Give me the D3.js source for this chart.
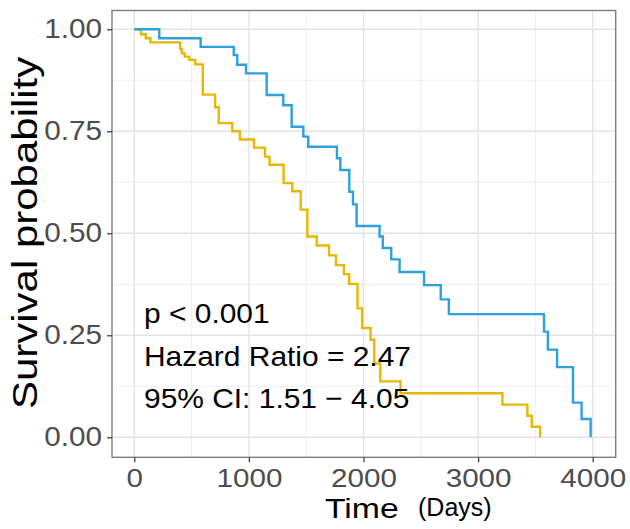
<!DOCTYPE html>
<html>
<head>
<meta charset="utf-8">
<script src="https://cdn.jsdelivr.net/npm/d3@7"></script>
<style>
  html, body { margin: 0; padding: 0; background: #fff; }
  svg { display: block; font-family: "Liberation Sans", Arial, sans-serif; }
</style>
</head>
<body>
<svg id="chart" width="630" height="529"></svg>
<script>
// ---- data ----
const xTicks = [0, 1000, 2000, 3000, 4000];
const yTicks = [0, 0.25, 0.5, 0.75, 1];
const yTickLabels = ["0.00", "0.25", "0.50", "0.75", "1.00"];
const xMinor = [500, 1500, 2500, 3500];
const yMinor = [0.125, 0.375, 0.625, 0.875];

// blue group (lower risk)
const blueTime = [0, 218, 579, 868, 898, 975, 1155, 1300, 1373, 1475, 1518, 1768, 1798, 1876, 1908, 1940, 2140, 2168, 2242, 2315, 2528, 2674, 2745, 3575, 3609, 3689, 3828, 3903, 3982];
const blueSurv = [1, 0.978, 0.957, 0.937, 0.913, 0.892, 0.839, 0.814, 0.761, 0.737, 0.712, 0.684, 0.655, 0.602, 0.571, 0.518, 0.492, 0.464, 0.436, 0.405, 0.373, 0.338, 0.302, 0.259, 0.215, 0.172, 0.085, 0.045, 0];

// yellow group (higher risk)
const yellowTime = [0, 58, 100, 141, 400, 415, 440, 480, 532, 598, 705, 737, 855, 922, 1045, 1140, 1180, 1303, 1379, 1452, 1510, 1592, 1699, 1760, 1830, 1875, 1948, 1988, 2062, 2094, 2147, 2323, 3212, 3430, 3468, 3542];
const yellowSurv = [1, 0.988, 0.978, 0.968, 0.952, 0.941, 0.933, 0.925, 0.914, 0.840, 0.809, 0.770, 0.750, 0.730, 0.710, 0.688, 0.668, 0.623, 0.603, 0.558, 0.492, 0.470, 0.446, 0.422, 0.400, 0.376, 0.316, 0.268, 0.239, 0.181, 0.137, 0.108, 0.080, 0.053, 0.026, 0];

const annotations = ["p < 0.001", "Hazard Ratio = 2.47", "95% CI: 1.51 \u2212 4.05"];

// ---- layout ----
const panel = { left: 112, right: 615.7, top: 10.5, bottom: 457.3 };
const x = d3.scaleLinear().domain([0, 4000]).range([134.3, 592.7]);
const y = d3.scaleLinear().domain([0, 1]).range([437.3, 29.3]);
const FONT = "'Liberation Sans', Arial, sans-serif";

const svg = d3.select("#chart");

// minor grid
svg.append("g").selectAll("line").data(xMinor).join("line")
  .attr("x1", d => x(d)).attr("x2", d => x(d))
  .attr("y1", panel.top).attr("y2", panel.bottom)
  .attr("stroke", "#f0f0f0").attr("stroke-width", 1);
svg.append("g").selectAll("line").data(yMinor).join("line")
  .attr("y1", d => y(d)).attr("y2", d => y(d))
  .attr("x1", panel.left).attr("x2", panel.right)
  .attr("stroke", "#f0f0f0").attr("stroke-width", 1);
// major grid
svg.append("g").selectAll("line").data(xTicks).join("line")
  .attr("x1", d => x(d)).attr("x2", d => x(d))
  .attr("y1", panel.top).attr("y2", panel.bottom)
  .attr("stroke", "#e4e4e4").attr("stroke-width", 1.4);
svg.append("g").selectAll("line").data(yTicks).join("line")
  .attr("y1", d => y(d)).attr("y2", d => y(d))
  .attr("x1", panel.left).attr("x2", panel.right)
  .attr("stroke", "#e4e4e4").attr("stroke-width", 1.4);

// curves
const line = d3.line().x(d => x(d[0])).y(d => y(d[1])).curve(d3.curveStepAfter);
const blue = blueTime.map((t, i) => [t, blueSurv[i]]);
const yellow = yellowTime.map((t, i) => [t, yellowSurv[i]]);
svg.append("path").datum(yellow).attr("d", line)
  .attr("fill", "none").attr("stroke", "#E7B800").attr("stroke-width", 2.4);
svg.append("path").datum(blue).attr("d", line)
  .attr("fill", "none").attr("stroke", "#2E9FDF").attr("stroke-width", 2.4);

// panel border
svg.append("rect")
  .attr("x", panel.left).attr("y", panel.top)
  .attr("width", panel.right - panel.left).attr("height", panel.bottom - panel.top)
  .attr("fill", "none").attr("stroke", "#7f7f7f").attr("stroke-width", 1.4);

// axes
const xAxis = d3.axisBottom(x).tickValues(xTicks).tickSize(5).tickPadding(6).tickFormat(d3.format("d"));
const gx = svg.append("g").attr("transform", `translate(0,${panel.bottom})`).call(xAxis);
gx.select(".domain").remove();
gx.selectAll(".tick line").attr("stroke", "#333").attr("stroke-width", 1.2);
gx.selectAll(".tick text").attr("fill", "#4d4d4d").style("font-size", "26px")
  .style("font-family", FONT).attr("transform", "scale(1.14,1)");

const yAxis = d3.axisLeft(y).tickValues(yTicks).tickSize(5).tickPadding(4)
  .tickFormat((d, i) => yTickLabels[i]);
const gy = svg.append("g").attr("transform", `translate(${panel.left},0)`).call(yAxis);
gy.select(".domain").remove();
gy.selectAll(".tick line").attr("stroke", "#333").attr("stroke-width", 1.2);
gy.selectAll(".tick text").attr("fill", "#4d4d4d").style("font-size", "27px")
  .style("font-family", FONT)
  .attr("x", 0).attr("transform", "translate(-10,0) scale(1.1,1)");

// axis titles
svg.append("text")
  .attr("transform", `translate(37,${(panel.top + panel.bottom) / 2 - 1}) rotate(-90) scale(1.2,1)`)
  .attr("text-anchor", "middle").attr("fill", "#000")
  .style("font-size", "35px").text("Survival probability");

svg.append("text").attr("transform", "translate(325,518) scale(1.25,1)")
  .attr("fill", "#000").style("font-size", "27px").text("Time");
svg.append("text").attr("transform", "translate(418,516)")
  .attr("fill", "#000").style("font-size", "25px").text("(Days)");

// annotation
svg.append("g").selectAll("text").data(annotations).join("text")
  .attr("transform", (d, i) => `translate(144,${323 + i * 42.5}) scale(1.05,1)`)
  .attr("fill", "#000").style("font-size", "28.5px")
  .text(d => d);
</script>
</body>
</html>
